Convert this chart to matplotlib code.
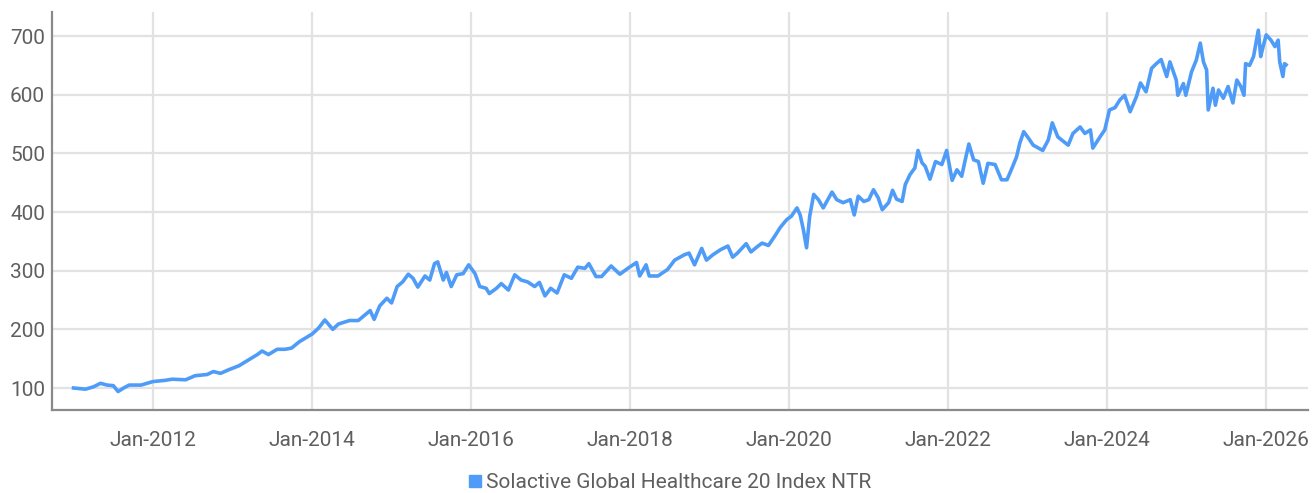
import matplotlib
matplotlib.use("Agg")
import matplotlib.pyplot as plt
import matplotlib.dates as mdates
from matplotlib.lines import Line2D
import pandas as pd

# decimal year -> index level
years = [
    2011.00, 2011.15, 2011.25, 2011.34, 2011.42, 2011.50, 2011.56, 2011.63, 2011.70, 2011.85,
    2012.00, 2012.15, 2012.24, 2012.41, 2012.53, 2012.68, 2012.76, 2012.85, 2012.95,
    2013.08, 2013.20, 2013.31, 2013.37, 2013.45, 2013.56, 2013.66, 2013.74, 2013.84,
    2014.00, 2014.08, 2014.16, 2014.26, 2014.33, 2014.47, 2014.58, 2014.66, 2014.73, 2014.78,
    2014.85, 2014.94, 2015.00, 2015.07, 2015.14, 2015.21, 2015.27, 2015.33, 2015.42, 2015.48,
    2015.54, 2015.58, 2015.65, 2015.69, 2015.75, 2015.82, 2015.90, 2015.97,
    2016.05, 2016.11, 2016.19, 2016.23, 2016.32, 2016.38, 2016.47, 2016.55, 2016.63, 2016.71,
    2016.80, 2016.86, 2016.93, 2017.00, 2017.08, 2017.17, 2017.26, 2017.34, 2017.43, 2017.48,
    2017.57, 2017.64, 2017.76, 2017.87, 2017.97, 2018.08, 2018.12, 2018.20, 2018.24, 2018.35,
    2018.47, 2018.56, 2018.68, 2018.74, 2018.81, 2018.90, 2018.96, 2019.04, 2019.14, 2019.23,
    2019.29, 2019.35, 2019.46, 2019.52, 2019.60, 2019.66, 2019.74, 2019.82, 2019.89, 2019.97,
    2020.03, 2020.10, 2020.14, 2020.18, 2020.22, 2020.26, 2020.31, 2020.37, 2020.43, 2020.54,
    2020.60, 2020.68, 2020.77, 2020.82, 2020.87, 2020.94, 2021.00, 2021.06, 2021.12, 2021.17,
    2021.25, 2021.30, 2021.35, 2021.42, 2021.46, 2021.52, 2021.58, 2021.62, 2021.67, 2021.71,
    2021.77, 2021.84, 2021.92, 2021.98, 2022.05, 2022.11, 2022.17, 2022.21, 2022.26, 2022.32,
    2022.38, 2022.44, 2022.50, 2022.59, 2022.67, 2022.74, 2022.80, 2022.86, 2022.90, 2022.95,
    2023.01, 2023.07, 2023.19, 2023.26, 2023.31, 2023.38, 2023.51, 2023.57, 2023.66, 2023.72,
    2023.79, 2023.82, 2023.91, 2023.97, 2024.03, 2024.10, 2024.16, 2024.22, 2024.29, 2024.37,
    2024.42, 2024.49, 2024.56, 2024.62, 2024.68, 2024.75, 2024.79, 2024.87, 2024.89, 2024.96,
    2024.99, 2025.06, 2025.12, 2025.17, 2025.21, 2025.25, 2025.27, 2025.33, 2025.36, 2025.40,
    2025.46, 2025.52, 2025.58, 2025.63, 2025.68, 2025.72, 2025.74, 2025.79, 2025.84, 2025.90,
    2025.93, 2025.96, 2026.00, 2026.06, 2026.11, 2026.15, 2026.17, 2026.21, 2026.23, 2026.25,
]
values = [
    100, 98, 102, 108, 105, 104, 94, 100, 105, 105,
    111, 113, 115, 114, 121, 123, 128, 125, 131,
    138, 148, 157, 163, 157, 166, 166, 168, 179,
    192, 202, 216, 200, 209, 215, 215, 224, 232, 217,
    240, 253, 245, 273, 281, 294, 287, 272, 291, 284,
    312, 315, 284, 297, 273, 293, 295, 310,
    295, 273, 270, 261, 270, 278, 267, 293, 284, 281,
    273, 280, 257, 270, 262, 293, 287, 306, 304, 312,
    290, 290, 308, 294, 304, 314, 291, 310, 291, 291,
    302, 318, 327, 330, 310, 338, 318, 327, 336, 342,
    323, 330, 346, 332, 341, 347, 343, 359, 374, 387,
    393, 407, 395, 370, 339, 393, 430, 421, 407, 434,
    421, 416, 421, 395, 427, 418, 421, 438, 424, 404,
    416, 437, 422, 418, 447, 464, 475, 505, 484, 478,
    456, 486, 481, 505, 454, 472, 461, 486, 516, 489,
    486, 449, 483, 481, 455, 455, 474, 494, 517, 537,
    526, 514, 505, 523, 552, 528, 514, 534, 545, 534,
    540, 509, 528, 540, 574, 578, 591, 599, 571, 597,
    620, 605, 645, 653, 660, 631, 656, 625, 599, 619,
    599, 639, 659, 688, 656, 642, 574, 611, 582, 608,
    594, 614, 586, 625, 614, 599, 653, 650, 665, 710,
    665, 682, 702, 693, 682, 693, 656, 631, 653, 651,
]
series_name = "Solactive Global Healthcare 20 Index NTR"

dates = [pd.Timestamp(f"{int(y)}-01-01") + pd.Timedelta(days=(y % 1) * 365.25) for y in years]

line_color = "#4f9cf8"
text_color = "#5f5f5f"
plt.rcParams['font.family'] = ['Roboto', 'DejaVu Sans']

fig = plt.figure(figsize=(13.16, 4.93), dpi=100)
ax = fig.add_axes([52 / 1316, 83 / 493, (1308 - 52) / 1316, (410 - 12) / 493])

ax.plot(dates, values, color=line_color, linewidth=2.6, solid_joinstyle='round')

ax.set_xlim(pd.Timestamp("2010-09-24"), pd.Timestamp("2026-07-12"))
ax.set_ylim(62.5, 741)
ax.set_yticks(range(100, 701, 100))
ax.xaxis.set_major_locator(mdates.YearLocator(2, month=1, day=1))
ax.xaxis.set_major_formatter(mdates.DateFormatter("%b-%Y"))

ax.grid(True, color="#e2e2e2", linewidth=1.6)
ax.set_axisbelow(True)
for side in ["top", "right"]:
    ax.spines[side].set_visible(False)
for side in ["left", "bottom"]:
    ax.spines[side].set_color("#8a8a8a")
    ax.spines[side].set_linewidth(1.6)

ax.tick_params(axis='both', length=0, labelsize=15, labelcolor=text_color)
ax.tick_params(axis='x', pad=15)
ax.tick_params(axis='y', pad=5)

handle = Line2D([], [], linestyle='none', marker='s', markersize=8,
                color=line_color)
fig.legend([handle], [series_name], loc='center',
           bbox_to_anchor=(669 / 1316, 1 - 483 / 493), frameon=False,
           fontsize=15, labelcolor=text_color, handletextpad=0.1,
           handlelength=0.8)

fig.savefig("out.png", dpi=100)
plt.close(fig)
